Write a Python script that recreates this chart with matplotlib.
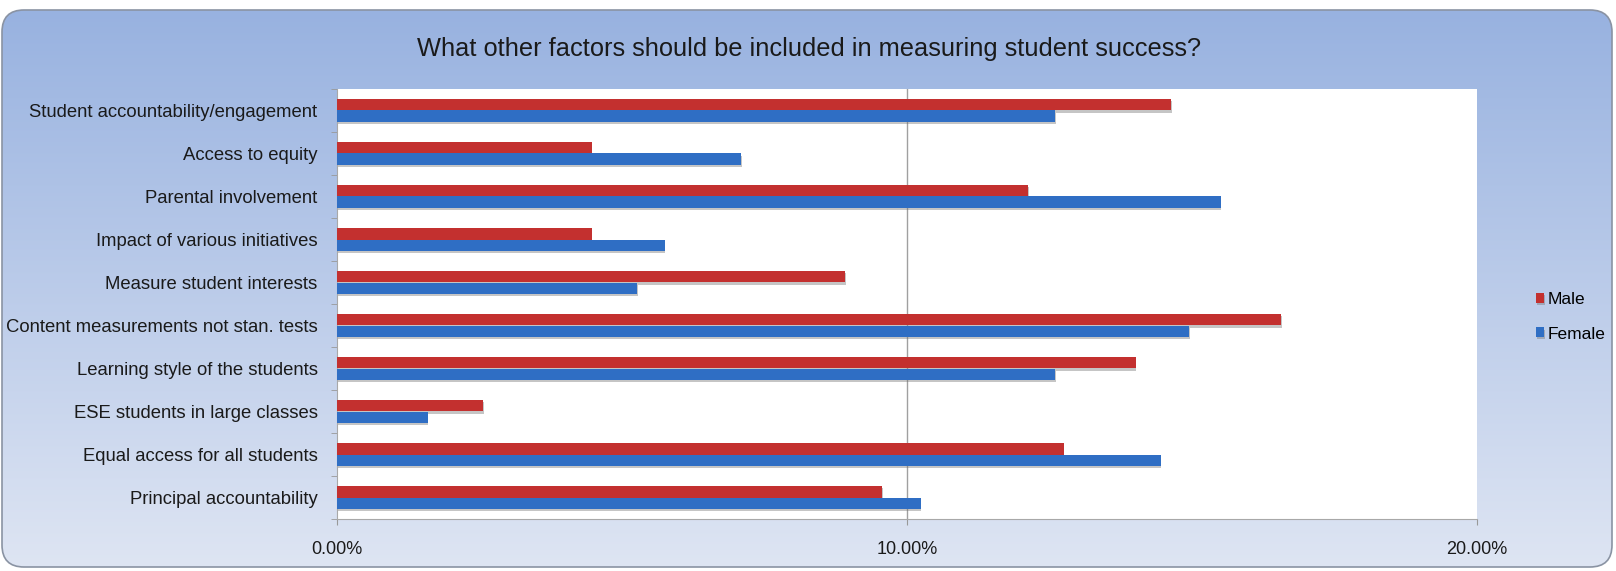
import matplotlib.pyplot as plt
import matplotlib.patheffects as pe
from matplotlib.patches import FancyBboxPatch
import numpy as np

plt.rcParams['font.family'] = ['Liberation Sans', 'DejaVu Sans']

# datos (porcentajes)
categories = ['Student accountability/engagement', 'Access to equity', 'Parental involvement',
              'Impact of various initiatives', 'Measure student interests',
              'Content measurements not stan. tests', 'Learning style of the students',
              'ESE students in large classes', 'Equal access for all students',
              'Principal accountability']
male = [14.64, 4.47, 12.12, 4.47, 8.92, 16.56, 14.01, 2.56, 12.75, 9.56]
female = [12.60, 7.09, 15.50, 5.75, 5.26, 14.95, 12.60, 1.59, 14.45, 10.24]
xticks = [0, 10, 20]
xtick_labels = ['0.00%', '10.00%', '20.00%']
title = 'What other factors should be included in measuring student success?'

fig = plt.figure(figsize=(16.16, 5.71), dpi=100)
fig.patch.set_facecolor('white')

# fondo con degradado y esquinas redondeadas
bg = fig.add_axes([0, 0, 1, 1], zorder=0)
bg.set_xlim(0, 1616)
bg.set_ylim(571, 0)
bg.axis('off')
grad = np.linspace(0, 1, 256).reshape(-1, 1)
top_c = np.array([152, 178, 224]) / 255
bot_c = np.array([222, 229, 243]) / 255
img = top_c + (bot_c - top_c) * grad[..., None]
img = img.reshape(256, 1, 3)
frame = FancyBboxPatch((2, 10), 1610, 557, boxstyle='round,pad=0,rounding_size=22',
                       transform=bg.transData, facecolor='none', edgecolor='#8a93a3', lw=1.2)
bg.add_patch(frame)
im = bg.imshow(img, extent=[2, 1612, 567, 10], aspect='auto')
im.set_clip_path(frame)

ax = fig.add_axes([337 / 1616, 1 - 519 / 571, 1140 / 1616, 430 / 571], zorder=1)
ax.set_facecolor('white')

y = np.arange(len(categories))
h = 0.27
shadow = [pe.SimplePatchShadow(offset=(0.5, -1.5), shadow_rgbFace='#707070', alpha=0.4), pe.Normal()]
bm = ax.barh(y - h / 2, male, height=h, color='#C3302F', label='Male', path_effects=shadow, zorder=3)
bf = ax.barh(y + h / 2, female, height=h, color='#2F6EC4', label='Female', path_effects=shadow, zorder=3)

ax.set_xlim(0, 20)
ax.set_ylim(len(categories) - 0.5, -0.5)
ax.set_xticks(xticks)
ax.set_xticklabels(xtick_labels, fontsize=13, color='#1a1a1a')
ax.set_yticks(y)
ax.set_yticklabels(categories, fontsize=13.3, color='#1a1a1a')
ax.set_yticks(np.arange(len(categories) + 1) - 0.5, minor=True)
ax.tick_params(axis='y', which='major', length=0, pad=14)
ax.tick_params(axis='y', which='minor', length=4, color='#999999')
ax.tick_params(axis='x', length=4, color='#999999', pad=12)
ax.axvline(10, color='#a0a0a0', lw=1, zorder=1)

for s in ['top', 'right']:
    ax.spines[s].set_visible(False)
for s in ['left', 'bottom']:
    ax.spines[s].set_color('#a8a8a8')

fig.text(809 / 1616, 1 - 49 / 571, title, ha='center', va='center', fontsize=18.3, color='#1a1a1a')

leg = ax.legend(handles=[bm, bf], loc='center left', bbox_to_anchor=(1536 / 1616, 1 - 317 / 571),
                bbox_transform=fig.transFigure, frameon=False, fontsize=12.5,
                handlelength=0.45, handleheight=0.5, handletextpad=0.2, labelspacing=1.1,
                borderaxespad=0, borderpad=0)

fig.savefig('out.png', dpi=100)
